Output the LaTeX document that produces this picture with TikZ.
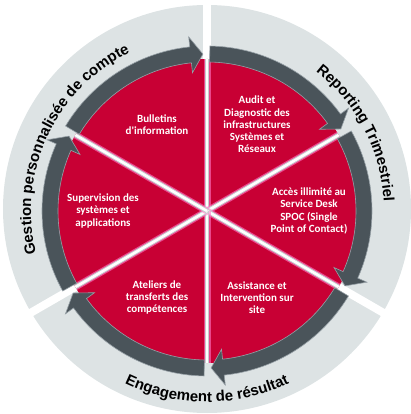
\documentclass[tikz,border=0pt]{standalone}
\usepackage{fontspec}
\usetikzlibrary{decorations.text}
\newfontfamily\ringfont{Liberation Sans}
\newfontfamily\boxfont{Carlito}
\definecolor{ringgray}{RGB}{221,227,228}
\definecolor{arrowgray}{RGB}{74,84,90}
\definecolor{arrowedge}{RGB}{150,160,166}
\definecolor{redfill}{RGB}{200,0,52}
\definecolor{pinkglow}{RGB}{255,120,200}
\definecolor{splitgray}{RGB}{200,205,208}
\newcommand{\ringstyle}{\ringfont\bfseries\fontsize{15}{18}\selectfont}

\begin{document}
\begin{tikzpicture}[x=1pt,y=1pt,
    redsector/.style={fill=redfill},
    ringgap/.style={white,line width=8pt},
    arrowband/.style={fill=arrowgray,draw=arrowedge,line width=0.6pt},
    itemtext/.style={text=white,align=center,font=\boxfont\bfseries\fontsize{11}{12.2}\selectfont},
    ringlabel/.style={decorate,decoration={text along path,text align=center,text={|\ringstyle|#1}}}]
    \useasboundingbox (-207,-203) rectangle (203,211);

    %% outer ring
    \fill [ringgray] (0,2) circle (204);
    \draw [ringgap] (0,0) -- (90:215);
    \draw [ringgap] (0,0) -- (-30:215);
    \draw [ringgap] (0,0) -- (210:215);

    %% sectors
    \fill [redsector] (0,0) -- (90:152) arc[start angle=90,end angle=150,radius=152] -- cycle;
    \fill [redsector] (0,0) -- (30:152) arc[start angle=30,end angle=90,radius=152] -- cycle;
    \fill [redsector] (0,0) -- (-30:152) arc[start angle=-30,end angle=30,radius=152] -- cycle;
    \fill [redsector] (0,0) -- (-90:152) arc[start angle=-90,end angle=-30,radius=152] -- cycle;
    \fill [redsector] (0,0) -- (-150:152) arc[start angle=-150,end angle=-90,radius=152] -- cycle;
    \fill [redsector] (0,0) -- (150:152) arc[start angle=150,end angle=210,radius=152] -- cycle;

    %% splits
    \foreach \a in {90,30,-30,-90,-150,150} {
        \draw [pinkglow,line width=7pt,opacity=0.6] (0,0) -- (\a:152);
        \draw [splitgray,line width=4.5pt] (0,0) -- (\a:152);
        \draw [white,line width=2.5pt] (0,0) -- (\a:152);
    }

    %% arrows
    \filldraw [arrowband] (149:165) arc[start angle=149,end angle=96,radius=165] -- (96:175) -- (91.5:157) -- (96:139) -- (96:149) arc[start angle=96,end angle=149,radius=149] -- cycle;
    \filldraw [arrowband] (89:165) arc[start angle=89,end angle=36,radius=165] -- (36:175) -- (31.5:157) -- (36:139) -- (36:149) arc[start angle=36,end angle=89,radius=149] -- cycle;
    \filldraw [arrowband] (29:165) arc[start angle=29,end angle=-24,radius=165] -- (-24:175) -- (-28.5:157) -- (-24:139) -- (-24:149) arc[start angle=-24,end angle=29,radius=149] -- cycle;
    \filldraw [arrowband] (-31:165) arc[start angle=-31,end angle=-84,radius=165] -- (-84:175) -- (-88.5:157) -- (-84:139) -- (-84:149) arc[start angle=-84,end angle=-31,radius=149] -- cycle;
    \filldraw [arrowband] (-91:165) arc[start angle=-91,end angle=-144,radius=165] -- (-144:175) -- (-148.5:157) -- (-144:139) -- (-144:149) arc[start angle=-144,end angle=-91,radius=149] -- cycle;
    \filldraw [arrowband] (209:165) arc[start angle=209,end angle=156,radius=165] -- (156:175) -- (151.5:157) -- (156:139) -- (156:149) arc[start angle=156,end angle=209,radius=149] -- cycle;

    %% sector texts
    \node [itemtext] (bulletins) at (120:100) {Bulletins\\d'information};
    \node [itemtext] (audit) at (60:100) {Audit et\\Diagnostic des\\infrastructures\\Systèmes et\\Réseaux};
    \node [itemtext] (acces) at (0:102) {Accès illimité au\\Service Desk\\SPOC (Single\\Point of Contact)};
    \node [itemtext] (assistance) at (-60:100) {Assistance et\\Intervention sur\\site};
    \node [itemtext] (ateliers) at (-120:100) {Ateliers de\\transferts des\\compétences};
    \node [itemtext] (supervision) at (180:104) {Supervision des\\systèmes et\\applications};

    %% ring texts
    \path [ringlabel={Gestion personnalisée de compte}] (215:176) arc[start angle=215,end angle=95,radius=176];
    \path [ringlabel={Reporting Trimestriel}] (75:177) arc[start angle=75,end angle=-20,radius=177];
    \path [ringlabel={Engagement de résultat}] (225:191) arc[start angle=225,end angle=315,radius=191];
\end{tikzpicture}
\end{document}
